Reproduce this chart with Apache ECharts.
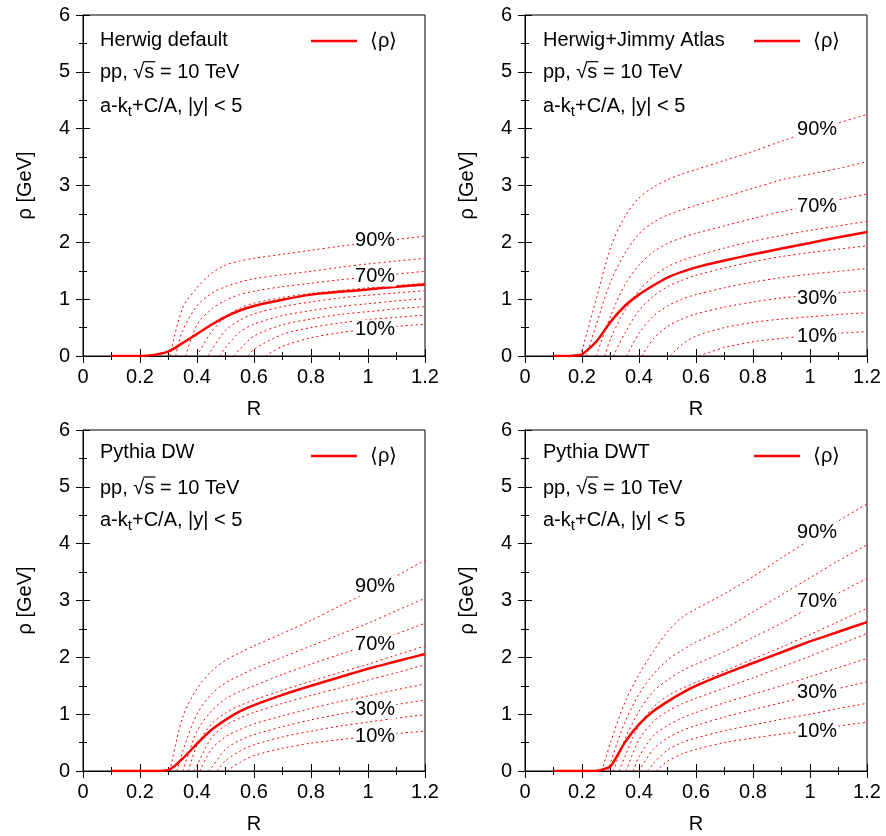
<!DOCTYPE html>
<html><head><meta charset="utf-8">
<script src="https://cdn.jsdelivr.net/npm/echarts@6/dist/echarts.min.js"></script>
<style>html,body{margin:0;padding:0;background:#fff;}#c{width:886px;height:836px;}</style>
</head><body><div id="c"></div>
<script>
const n = null;
// R values at which the curves are sampled
const R = [0.1,0.15,0.2,0.25,0.3,0.35,0.4,0.45,0.5,0.55,0.6,0.7,0.8,0.9,1.0,1.1,1.2];
const PCT_NAMES = ['10%','20%','30%','40%','50%','60%','70%','80%','90%'];
const LABEL_R = 1.025;

// ---- Herwig default ----
const herwigMean = [0,0,0,0.02,0.08,0.23,0.39,0.55,0.69,0.80,0.88,0.99,1.08,1.13,1.17,1.22,1.26];
const herwigStart = [0.64,0.58,0.53,0.48,0.44,0.40,0.36,0.325,0.305];
const herwigPct = [
  [n,n,n,n,n,n,n,n,n,n,n,0.17,0.32,0.41,0.47,0.52,0.56],
  [n,n,n,n,n,n,n,n,n,n,0.12,0.38,0.50,0.58,0.64,0.68,0.72],
  [n,n,n,n,n,n,n,n,n,0.12,0.35,0.55,0.65,0.73,0.78,0.83,0.87],
  [n,n,n,n,n,n,n,n,0.15,0.42,0.56,0.71,0.80,0.87,0.92,0.97,1.01],
  [n,n,n,n,n,n,n,0.1,0.45,0.63,0.74,0.87,0.95,1.02,1.07,1.11,1.15],
  [n,n,n,n,n,n,n,0.42,0.68,0.84,0.93,1.03,1.10,1.15,1.20,1.24,1.28],
  [n,n,n,n,n,n,0.55,0.82,0.98,1.08,1.14,1.22,1.28,1.34,1.39,1.44,1.49],
  [n,n,n,n,n,0.45,0.88,1.10,1.22,1.30,1.36,1.43,1.49,1.56,1.62,1.67,1.72],
  [n,n,n,n,n,0.85,1.20,1.45,1.60,1.67,1.72,1.79,1.86,1.93,1.99,2.05,2.11]
];
const herwigLabText = ['90%','70%','10%'];
const herwigLabY = [2.03,1.40,0.46];

// ---- Herwig+Jimmy Atlas ----
const jimmyMean = [0,0,0.03,0.25,0.6,0.88,1.08,1.24,1.38,1.48,1.56,1.68,1.79,1.89,1.99,2.09,2.18];
const jimmyStart = [0.61,0.51,0.41,0.357,0.31,0.28,0.25,0.215,0.195];
const jimmyPct = [
  [n,n,n,n,n,n,n,n,n,n,n,0.15,0.25,0.31,0.36,0.40,0.43],
  [n,n,n,n,n,n,n,n,n,0.2,0.35,0.5,0.59,0.65,0.69,0.73,0.76],
  [n,n,n,n,n,n,n,0.3,0.52,0.65,0.74,0.86,0.95,1.02,1.07,1.11,1.15],
  [n,n,n,n,n,n,0.4,0.7,0.88,1.0,1.08,1.2,1.3,1.38,1.44,1.49,1.54],
  [n,n,n,n,n,0.4,0.8,1.05,1.22,1.33,1.42,1.55,1.66,1.75,1.82,1.88,1.94],
  [n,n,n,n,0.3,0.8,1.15,1.4,1.57,1.68,1.76,1.9,2.02,2.12,2.21,2.29,2.37],
  [n,n,n,n,0.7,1.25,1.6,1.83,1.98,2.08,2.16,2.29,2.42,2.54,2.64,2.75,2.85],
  [n,n,n,0.55,1.3,1.8,2.15,2.35,2.48,2.57,2.65,2.8,2.95,3.1,3.2,3.3,3.42],
  [n,n,n,1.0,1.9,2.45,2.78,2.97,3.1,3.2,3.28,3.44,3.6,3.78,3.95,4.1,4.25]
];
const jimmyLabText = ['90%','70%','30%','10%'];
const jimmyLabY = [3.98,2.63,1.02,0.34];

// ---- Pythia DW ----
const dwMean = [0,0,0,0,0.02,0.22,0.48,0.72,0.9,1.05,1.16,1.34,1.5,1.65,1.8,1.93,2.06];
const dwStart = [0.505,0.47,0.44,0.41,0.39,0.37,0.35,0.33,0.305];
const dwPct = [
  [n,n,n,n,n,n,n,n,n,0.15,0.27,0.4,0.49,0.55,0.61,0.66,0.70],
  [n,n,n,n,n,n,n,n,0.18,0.35,0.46,0.6,0.7,0.79,0.86,0.93,0.99],
  [n,n,n,n,n,n,n,0.05,0.38,0.54,0.64,0.78,0.9,1.0,1.09,1.17,1.25],
  [n,n,n,n,n,n,n,0.38,0.6,0.73,0.83,0.97,1.1,1.22,1.32,1.43,1.53],
  [n,n,n,n,n,n,0.1,0.58,0.8,0.93,1.03,1.19,1.33,1.46,1.6,1.73,1.87],
  [n,n,n,n,n,n,0.45,0.82,1.02,1.15,1.25,1.42,1.58,1.73,1.88,2.04,2.20],
  [n,n,n,n,n,n,0.7,1.05,1.27,1.4,1.5,1.7,1.88,2.05,2.22,2.41,2.60],
  [n,n,n,n,n,0.35,1.0,1.35,1.55,1.68,1.8,2.0,2.2,2.4,2.6,2.82,3.04],
  [n,n,n,n,n,0.95,1.45,1.75,1.95,2.08,2.2,2.42,2.65,2.9,3.15,3.43,3.71]
];
const dwLabText = ['90%','70%','30%','10%'];
const dwLabY = [3.25,2.22,1.09,0.61];

// ---- Pythia DWT ----
const dwtMean = [0,0,0,0,0.08,0.5,0.82,1.05,1.22,1.37,1.5,1.71,1.9,2.09,2.28,2.45,2.62];
const dwtStart = [0.46,0.43,0.40,0.38,0.355,0.33,0.31,0.29,0.27];
const dwtPct = [
  [n,n,n,n,n,n,n,n,0.17,0.3,0.38,0.5,0.58,0.65,0.72,0.79,0.86],
  [n,n,n,n,n,n,n,0.13,0.37,0.5,0.58,0.71,0.81,0.91,1.0,1.1,1.19],
  [n,n,n,n,n,n,n,0.38,0.58,0.71,0.8,0.95,1.08,1.2,1.32,1.45,1.57],
  [n,n,n,n,n,n,0.25,0.62,0.8,0.93,1.03,1.2,1.35,1.5,1.66,1.82,1.98],
  [n,n,n,n,n,n,0.55,0.87,1.05,1.18,1.28,1.46,1.64,1.83,2.02,2.22,2.42],
  [n,n,n,n,n,0.25,0.8,1.12,1.32,1.45,1.56,1.76,1.97,2.18,2.4,2.63,2.86],
  [n,n,n,n,n,0.55,1.05,1.4,1.6,1.76,1.88,2.1,2.35,2.6,2.88,3.13,3.39],
  [n,n,n,n,0.15,0.85,1.35,1.7,1.95,2.12,2.27,2.5,2.8,3.1,3.4,3.7,3.98],
  [n,n,n,n,0.5,1.2,1.7,2.1,2.45,2.7,2.85,3.12,3.42,3.75,4.07,4.4,4.7]
];
const dwtLabText = ['90%','70%','30%','10%'];
const dwtLabY = [4.2,2.99,1.39,0.70];

const panels = [
  {title:'Herwig default', mean:herwigMean, start:herwigStart, pct:herwigPct, labT:herwigLabText, labY:herwigLabY},
  {title:'Herwig+Jimmy Atlas', mean:jimmyMean, start:jimmyStart, pct:jimmyPct, labT:jimmyLabText, labY:jimmyLabY},
  {title:'Pythia DW', mean:dwMean, start:dwStart, pct:dwPct, labT:dwLabText, labY:dwLabY},
  {title:'Pythia DWT', mean:dwtMean, start:dwtStart, pct:dwtPct, labT:dwtLabText, labY:dwtLabY}
];

const FONT = '"Liberation Sans", Arial, Helvetica, sans-serif';
const RED = '#ff0000';
const gridPos = [
  {left:83, top:15}, {left:525, top:15}, {left:83, top:430}, {left:525, top:430}
];
const GW = 342, GH = 341;

const grids = [], xAxes = [], yAxes = [], series = [], legends = [], graphics = [];

const mctx = document.createElement('canvas').getContext('2d');
mctx.font = '20px ' + FONT;

panels.forEach((p, g) => {
  const gp = gridPos[g];
  grids.push({left:gp.left, top:gp.top, width:GW, height:GH, show:true, borderColor:'#000', borderWidth:1, containLabel:false});
  const tickStyle = {show:true, inside:true, length:7, lineStyle:{color:'#000', width:1}};
  const minor = {show:true, splitNumber:2, length:4, lineStyle:{color:'#000', width:1}};
  xAxes.push({type:'value', gridIndex:g, min:0, max:1.2, interval:0.2, position:'bottom',
    axisLine:{show:true, lineStyle:{color:'#000', width:1}}, axisTick:tickStyle, minorTick:minor,
    splitLine:{show:false}, minorSplitLine:{show:false},
    axisLabel:{show:true, margin:11, fontSize:20, fontFamily:FONT, color:'#000'},
    name:'R', nameLocation:'middle', nameGap:43, nameTextStyle:{fontSize:20, fontFamily:FONT, color:'#000'}});
  xAxes.push({type:'value', gridIndex:g, min:0, max:1.2, interval:0.2, position:'top',
    axisLine:{show:true, lineStyle:{color:'#000', width:1}}, axisTick:tickStyle, minorTick:minor,
    splitLine:{show:false}, axisLabel:{show:false}});
  yAxes.push({type:'value', gridIndex:g, min:0, max:6, interval:1, position:'left',
    axisLine:{show:true, lineStyle:{color:'#000', width:1}}, axisTick:tickStyle, minorTick:minor,
    splitLine:{show:false}, minorSplitLine:{show:false},
    axisLabel:{show:true, margin:13, fontSize:20, fontFamily:FONT, color:'#000'},
    name:'ρ [GeV]', nameLocation:'middle', nameGap:48, nameTextStyle:{fontSize:20, fontFamily:FONT, color:'#000'}});
  yAxes.push({type:'value', gridIndex:g, min:0, max:6, interval:1, position:'right',
    axisLine:{show:true, lineStyle:{color:'#000', width:1}}, axisTick:tickStyle, minorTick:minor,
    splitLine:{show:false}, axisLabel:{show:false}});

  p.pct.forEach((arr, k) => {
    const data = [[p.start[k], 0]];
    R.forEach((r, i) => { if (arr[i] !== null && r > p.start[k]) data.push([r, arr[i]]); });
    series.push({type:'line', name:PCT_NAMES[k], xAxisIndex:2*g, yAxisIndex:2*g, data,
      symbol:'none', smooth:0.3, silent:true, z:2,
      lineStyle:{color:RED, width:1, type:[2,3]}});
  });
  series.push({type:'line', name:'⟨ρ⟩', xAxisIndex:2*g, yAxisIndex:2*g,
    data:R.map((r,i)=>[r, p.mean[i]]), symbol:'none', smooth:(g===0||g===2)?0.3:0.15, silent:true, z:3,
    itemStyle:{color:RED}, lineStyle:{color:RED, width:2.5},
    markPoint:{symbol:'rect', symbolSize:0, silent:true,
      label:{show:true, position:'inside', formatter:'{b}', fontSize:20, fontFamily:FONT, color:'#000',
        backgroundColor:'#fff', padding:[0,1]},
      data:p.labT.map((t,i)=>({name:t, coord:[LABEL_R, p.labY[i]]}))}
  });

  const lx = (g % 2) ? 754 : 311;
  const ly = (g < 2) ? 31 : 446;
  legends.push({data:[{name:'⟨ρ⟩', icon:'rect', itemStyle:{color:RED}}], left:lx, top:ly, padding:0,
    itemWidth:46, itemHeight:2.5, selectedMode:false,
    textStyle:{fontSize:20, fontFamily:FONT, color:'#000', padding:[0,0,0,8]}});

  const tx = (g % 2) ? 543 : 100;
  const ys = (g < 2) ? [40, 72.7, 106] : [452, 488, 520];
  graphics.push({type:'text', x:tx, y:ys[0], silent:true,
    style:{text:p.title, fontSize:20, fontFamily:FONT, fill:'#000', verticalAlign:'middle'}});
  graphics.push({type:'text', x:tx, y:ys[1], silent:true,
    style:{text:'pp, √s = 10 TeV', fontSize:20, fontFamily:FONT, fill:'#000', verticalAlign:'middle'}});
  const w0 = mctx.measureText('pp, √').width, ws = mctx.measureText('s').width;
  graphics.push({type:'line', silent:true,
    shape:{x1:tx + w0 - 1, y1:ys[1] - 11, x2:tx + w0 + ws + 1, y2:ys[1] - 11},
    style:{stroke:'#000', lineWidth:1.2}});
  graphics.push({type:'text', x:tx, y:ys[2], silent:true,
    style:{text:'{n|a-k}{s|t}{n|+C/A, |y| < 5}', verticalAlign:'middle', fill:'#000',
      rich:{n:{fontSize:20, fontFamily:FONT, lineHeight:28, fill:'#000', color:'#000'},
            s:{fontSize:15, fontFamily:FONT, lineHeight:16, padding:[12,0,0,0], fill:'#000', color:'#000'}}}});
});

const chart = echarts.init(document.getElementById('c'), null, {renderer:'canvas'});
chart.setOption({
  animation:false, backgroundColor:'#fff',
  grid:grids, xAxis:xAxes, yAxis:yAxes, series, legend:legends, graphic:graphics
});
</script></body></html>
